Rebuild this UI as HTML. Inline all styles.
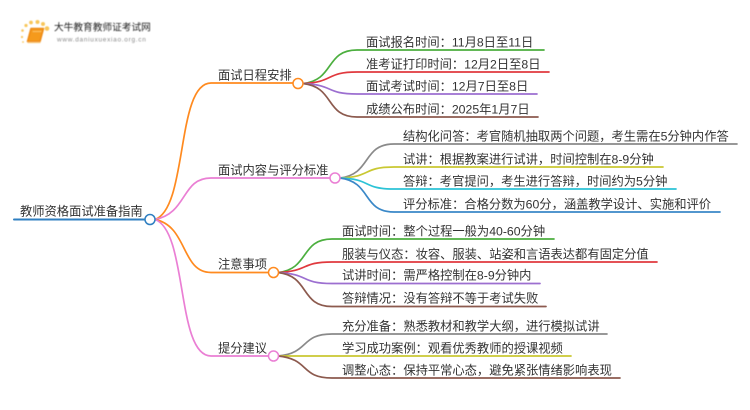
<!DOCTYPE html>
<html lang="zh"><head><meta charset="utf-8"><title>教师资格面试准备指南</title>
<style>
html,body{margin:0;padding:0;background:#fff;width:750px;height:410px;overflow:hidden}
svg{display:block}
text{font-family:"Liberation Sans","Noto Sans CJK SC",sans-serif;font-size:12.28px;fill:#333}
path{fill:none;stroke-linecap:round}
</style></head><body>
<svg width="750" height="410" viewBox="0 0 750 410" xmlns="http://www.w3.org/2000/svg">
<defs>
<filter id="b" x="-10%" y="-10%" width="120%" height="120%"><feGaussianBlur stdDeviation="0.4"/></filter>
<filter id="t" x="-2%" y="-20%" width="104%" height="140%"><feGaussianBlur stdDeviation="0.22"/></filter>
</defs>
<!-- logo -->
<g filter="url(#b)">
<g fill="#f8c65a"><circle cx="47" cy="28.500" r="2.300"/><circle cx="43" cy="24" r="2"/><circle cx="37.500" cy="22" r="2"/><circle cx="31" cy="22.500" r="1.900"/><circle cx="26" cy="25.500" r="1.600"/><circle cx="22.500" cy="30.500" r="1.300"/><circle cx="22" cy="37" r="1.100"/><circle cx="23" cy="42" r="0.900"/></g>
<path d="M31 28.500H43.500L40 41.500H27.500Z" style="fill:#f59a1c;stroke:#ee8a12;stroke-width:1.500;stroke-linejoin:round"/>
<path d="M28 42.500H40" style="stroke:#f7c878;stroke-width:1.200"/>
<path d="M33 31.500H41" style="stroke:#fbc35f;stroke-width:1"/>
<text x="54" y="30.500" style="font-size:9.700px;fill:#222">大牛教育教师证考试网</text>
<text x="57" y="41.500" style="font-size:6.400px;fill:#8a8a8a;letter-spacing:.74px">www.daniuxuexiao.org.cn</text>
</g>
<!-- root -->
<path d="M14 219.500H145" style="stroke:#2f7fc1;stroke-width:2"/>
<!-- main branches -->
<g stroke-width="1.700">
<path d="M155 219.500C188 208 176 83 211 83H293" stroke="#ff8a1f"/>
<path d="M155 219.500C188 213 181 178 211 178H330" stroke="#ea7fd4"/>
<path d="M155 219.500C188 226 181 272.500 211 272.500H268" stroke="#ff8a1f"/>
<path d="M155 219.500C188 231 176 356 211 356H268" stroke="#ea7fd4"/>
<!-- branch 1 children -->
<path d="M303 83.500C335 80 325 50 357 50H544" stroke="#4caf3f"/>
<path d="M303 83.500C335 82 325 72 357 72H549" stroke="#e0393e"/>
<path d="M303 83.500C335 85 325 94 357 94H537" stroke="#9c6fd0"/>
<path d="M303 83.500C335 87 325 117 357 117H538" stroke="#8c5a4e"/>
<!-- branch 2 children -->
<path d="M340 178C372 174 362 144 394 144H737" stroke="#8a8a8a"/>
<path d="M340 178C372 177 362 167 394 167H663" stroke="#c9c832"/>
<path d="M340 178C372 179 362 189 394 189H676" stroke="#2cc3d6"/>
<path d="M340 178C372 182 362 212 394 212H720" stroke="#3a88c8"/>
<!-- branch 3 children -->
<path d="M278 272.500C310 269 300 239 332 239H554" stroke="#4caf3f"/>
<path d="M278 272.500C310 271 300 262 332 262H657" stroke="#e0393e"/>
<path d="M278 272.500C310 274 300 283.500 332 283.500H540" stroke="#9c6fd0"/>
<path d="M278 272.500C310 276 300 306.500 332 306.500H546" stroke="#8c5a4e"/>
<!-- branch 4 children -->
<path d="M278 356C310 353 300 334 332 334H607" stroke="#8a8a8a"/>
<path d="M278 356H571" stroke="#c9c832"/>
<path d="M278 356C310 359 300 378 332 378H620" stroke="#8c5a4e"/>
</g>
<!-- circles -->
<g fill="#fff" stroke-width="1.500">
<circle cx="150" cy="219.500" r="5" stroke="#2f7fc1"/>
<circle cx="298" cy="83.500" r="5" stroke="#ff8a1f"/>
<circle cx="335" cy="178" r="5" stroke="#ea7fd4"/>
<circle cx="273.500" cy="272.500" r="5" stroke="#ff8a1f"/>
<circle cx="273.500" cy="356" r="5" stroke="#ea7fd4"/>
</g>
<!-- labels -->
<g filter="url(#t)">
<text x="20" y="215.500">教师资格面试准备指南</text>
<text x="218" y="79.500">面试日程安排</text>
<text x="218" y="174.500">面试内容与评分标准</text>
<text x="218" y="268.500">注意事项</text>
<text x="218" y="352.500">提分建议</text>
<text x="366" y="46.500">面试报名时间：11月8日至11日</text>
<text x="366" y="68.500">准考证打印时间：12月2日至8日</text>
<text x="366" y="90.500">面试考试时间：12月7日至8日</text>
<text x="366" y="113.500">成绩公布时间：2025年1月7日</text>
<text x="403" y="140.500">结构化问答：考官随机抽取两个问题，考生需在5分钟内作答</text>
<text x="403" y="163.500">试讲：根据教案进行试讲，时间控制在8-9分钟</text>
<text x="403" y="185.500">答辩：考官提问，考生进行答辩，时间约为5分钟</text>
<text x="403" y="208.500">评分标准：合格分数为60分，涵盖教学设计、实施和评价</text>
<text x="342" y="235.500">面试时间：整个过程一般为40-60分钟</text>
<text x="342" y="258.500">服装与仪态：妆容、服装、站姿和言语表达都有固定分值</text>
<text x="342" y="279.500">试讲时间：需严格控制在8-9分钟内</text>
<text x="342" y="302.500">答辩情况：没有答辩不等于考试失败</text>
<text x="342" y="330.500">充分准备：熟悉教材和教学大纲，进行模拟试讲</text>
<text x="342" y="352.500">学习成功案例：观看优秀教师的授课视频</text>
<text x="342" y="374.500">调整心态：保持平常心态，避免紧张情绪影响表现</text>
</g>
</svg>
</body></html>
